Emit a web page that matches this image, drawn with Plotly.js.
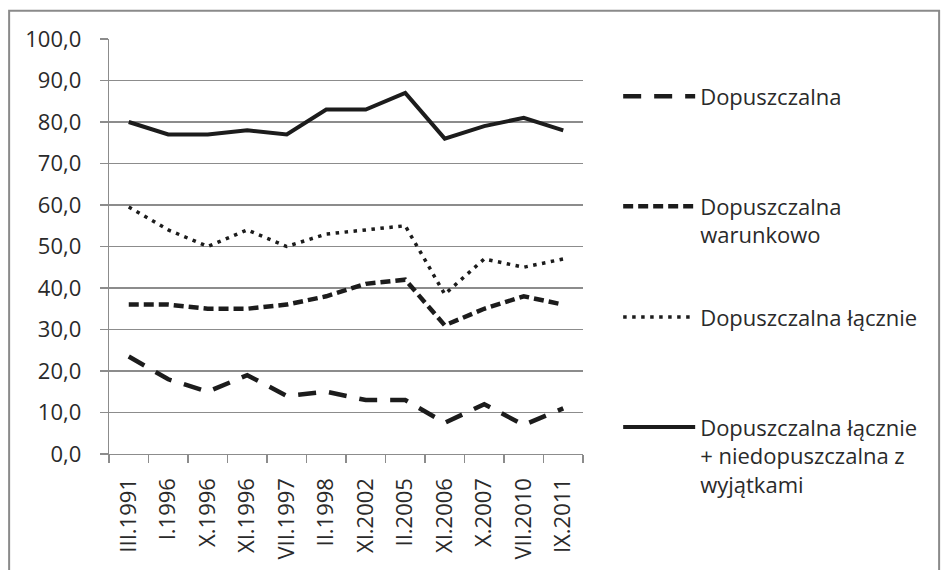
<!DOCTYPE html>
<html>
<head>
<meta charset="utf-8">
<script src="https://cdn.plot.ly/plotly-3.0.1.min.js"></script>
<style>html,body{margin:0;padding:0;background:#fff;}#chart{width:941px;height:570px;}</style>
</head>
<body>
<div id="chart"></div>
<script>
const categories = ['III.1991','I.1996','X.1996','XI.1996','VII.1997','II.1998','XI.2002','II.2005','XI.2006','X.2007','VII.2010','IX.2011'];
const dopuszczalna = [23.5, 18, 15, 19, 14, 15, 13, 13, 7.5, 12, 7, 11];
const dopuszczalnaWarunkowo = [36, 36, 35, 35, 36, 38, 41, 42, 31, 35, 38, 36];
const dopuszczalnaLacznie = [59.5, 54, 50, 54, 50, 53, 54, 55, 38.5, 47, 45, 47];
const lacznieZWyjatkami = [80, 77, 77, 78, 77, 83, 83, 87, 76, 79, 81, 78];
const seriesNames = ['Dopuszczalna', 'Dopuszczalna<br>warunkowo', 'Dopuszczalna łącznie', 'Dopuszczalna łącznie<br>+ niedopuszczalna z<br>wyjątkami'];
const yTicks = [0, 10, 20, 30, 40, 50, 60, 70, 80, 90, 100];

const ink = '#1c1c1c';
const font = {family: '"Open Sans", sans-serif', size: 22, color: '#2a2a2a'};

const traces = [
  {x: categories, y: dopuszczalna, name: seriesNames[0], legend: 'legend', line: {color: ink, width: 4.5, dash: '18px,13px'}},
  {x: categories, y: dopuszczalnaWarunkowo, name: seriesNames[1], legend: 'legend2', line: {color: ink, width: 4.5, dash: '10px,5px'}},
  {x: categories, y: dopuszczalnaLacznie, name: seriesNames[2], legend: 'legend3', line: {color: ink, width: 3.5, dash: '3.5px,5.5px'}},
  {x: categories, y: lacznieZWyjatkami, name: seriesNames[3], legend: 'legend4', line: {color: ink, width: 4}}
].map(t => Object.assign({type: 'scatter', mode: 'lines', showlegend: true}, t));

const legBase = {xanchor: 'left', yanchor: 'top', x: 1.0742, valign: 'top', bgcolor: 'rgba(0,0,0,0)', borderwidth: 0, itemwidth: 72, font: font, tracegroupgap: 0, visible: true};

const layout = {
  width: 941, height: 570,
  showlegend: true,
  margin: {l: 109, r: 357.5, t: 39.3, b: 115.7, pad: 0},
  paper_bgcolor: '#ffffff', plot_bgcolor: '#ffffff',
  font: font,
  separators: ',.',
  legend: Object.assign({}, legBase, {y: 0.912}),
  legend2: Object.assign({}, legBase, {y: 0.647}),
  legend3: Object.assign({}, legBase, {y: 0.380}),
  legend4: Object.assign({}, legBase, {y: 0.115}),
  xaxis: {
    type: 'category', categoryorder: 'array', categoryarray: categories,
    range: [-0.5, categories.length - 0.5], autorange: false,
    tickson: 'boundaries', ticks: 'outside', ticklen: 8, tickcolor: '#8c8c8c', tickwidth: 1.3,
    showline: true, linecolor: '#8c8c8c', linewidth: 1.3, showgrid: false, zeroline: false,
    tickangle: -90, ticklabelstandoff: 14, tickfont: font, fixedrange: true
  },
  yaxis: {
    range: [0, 100], autorange: false, tickmode: 'array', tickvals: yTicks, tickformat: '.1f',
    ticks: 'outside', ticklen: 8, tickcolor: '#8c8c8c', tickwidth: 1.3,
    showline: true, linecolor: '#8c8c8c', linewidth: 1.3,
    showgrid: true, gridcolor: '#8c8c8c', gridwidth: 1.3, zeroline: false,
    ticklabelstandoff: 14, tickfont: font, fixedrange: true
  },
  shapes: [{
    type: 'rect', xref: 'paper', yref: 'paper',
    x0: -0.2107, x1: 1.7513, y0: -0.32, y1: 1.0682,
    line: {color: '#8a8a8a', width: 2}, fillcolor: 'rgba(0,0,0,0)', layer: 'below'
  }]
};

Plotly.newPlot('chart', traces, layout, {staticPlot: true, displayModeBar: false});
</script>
</body>
</html>
